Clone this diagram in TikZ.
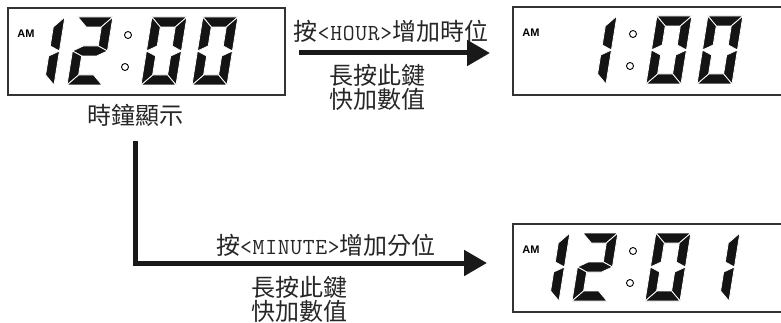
\documentclass[tikz,border=0pt]{standalone}
\usepackage{fontspec}
\setmainfont{Liberation Sans}
\newfontfamily\cjk{Noto Sans CJK TC}
\newfontfamily\monofnt{Latin Modern Mono}[LetterSpace=3]
\usetikzlibrary{arrows.meta}

\tikzset{
  lcdbox/.style={draw=black!80, line width=1.3pt, fill=white, inner sep=0pt, outer sep=0pt},
  lcdseg/.style={fill=black!92, draw=white, line width=0.8pt, line join=miter},
  colondot/.style={draw=black, line width=0.9pt, fill=white},
  amtext/.style={font=\bfseries\fontsize{11}{11}\selectfont, inner sep=0pt},
  cjklbl/.style={font=\cjk\fontsize{24}{24}\selectfont, text=black!85, inner sep=0pt, text height=21pt, text depth=3pt},
  asciipart/.style={},
  bigarrow/.style={draw=black!90, line width=5pt, -{Triangle[length=23pt, width=25pt]}}
}
\newcommand\asc[1]{{\monofnt\fontsize{23}{23}\selectfont #1}}

% seven segments, local frame: bottom-left origin, y up, w=34, h=68, t=10
\newcommand\segA{\filldraw[lcdseg] (0,68)--(35,68)--(25,58)--(10,58)--cycle;}
\newcommand\segB{\filldraw[lcdseg] (35,68)--(35,34)--(25,39)--(25,58)--cycle;}
\newcommand\segC{\filldraw[lcdseg] (35,34)--(35,0)--(25,10)--(25,29)--cycle;}
\newcommand\segD{\filldraw[lcdseg] (0,0)--(35,0)--(25,10)--(10,10)--cycle;}
\newcommand\segE{\filldraw[lcdseg] (0,34)--(10,29)--(10,10)--(0,0)--cycle;}
\newcommand\segF{\filldraw[lcdseg] (0,68)--(10,58)--(10,39)--(0,34)--cycle;}
\newcommand\segG{\filldraw[lcdseg] (0,34)--(10,39)--(25,39)--(35,34)--(25,29)--(10,29)--cycle;}

\newcommand\lcdnum[2]{%
  \begin{scope}[shift={(#1,-77)}, xslant=0.16]
    \foreach \s in {#2}{\csname seg\s\endcsname}
  \end{scope}}

\newcommand\clockface[2]{%
  \begin{scope}[shift={(#1.north west)}]
    \node[amtext] (#1am) at (18,-26) {AM};
    \draw[colondot] (120,-27) circle[radius=3.5];
    \draw[colondot] (117,-59) circle[radius=3.5];
    #2
  \end{scope}}

\begin{document}
\begin{tikzpicture}[x=1pt, y=1pt]
  \useasboundingbox (0,0) rectangle (781,-323);
  \clip (0,0) rectangle (781,-323);

  % displays
  \node[lcdbox, minimum width=277pt, minimum height=87pt] (b1) at (146.5,-51.5) {};
  \node[lcdbox, minimum width=277pt, minimum height=88pt] (b2) at (651.5,-51) {};
  \node[lcdbox, minimum width=277pt, minimum height=88pt] (b3) at (651.5,-268) {};

  \clockface{b1}{\lcdnum{11}{B,C}\lcdnum{59}{A,B,G,E,D}\lcdnum{133}{A,B,C,D,E,F}\lcdnum{184}{A,B,C,D,E,F}}
  \clockface{b2}{\lcdnum{58}{B,C}\lcdnum{133}{A,B,C,D,E,F}\lcdnum{184}{A,B,C,D,E,F}}
  \clockface{b3}{\lcdnum{11}{B,C}\lcdnum{59}{A,B,G,E,D}\lcdnum{132}{A,B,C,D,E,F}\lcdnum{181}{B,C}}

  % labels
  \node[cjklbl] (lbl) at (135,-116) {時鐘顯示};
  \node[cjklbl] (t1) at (391,-32) {按\asc{<HOUR>}增加時位};
  \node[cjklbl] (t2a) at (377,-76) {長按此鍵};
  \node[cjklbl] (t2b) at (377,-100) {快加數值};
  \node[cjklbl] (t3) at (326,-245) {按\asc{<MINUTE>}增加分位};
  \node[cjklbl] (t4a) at (299,-287) {長按此鍵};
  \node[cjklbl] (t4b) at (299,-311) {快加數值};

  % connectors
  \draw[bigarrow, shorten <=14pt, shorten >=23pt] ([yshift=-1.5pt]b1.east) -- ([yshift=-2pt]b2.west);
  \coordinate (c2) at (135,-263);
  \draw[bigarrow, shorten <=13pt, shorten >=26pt] (lbl.south) -- (c2) -- (c2 -| b3.west);
\end{tikzpicture}
\end{document}
